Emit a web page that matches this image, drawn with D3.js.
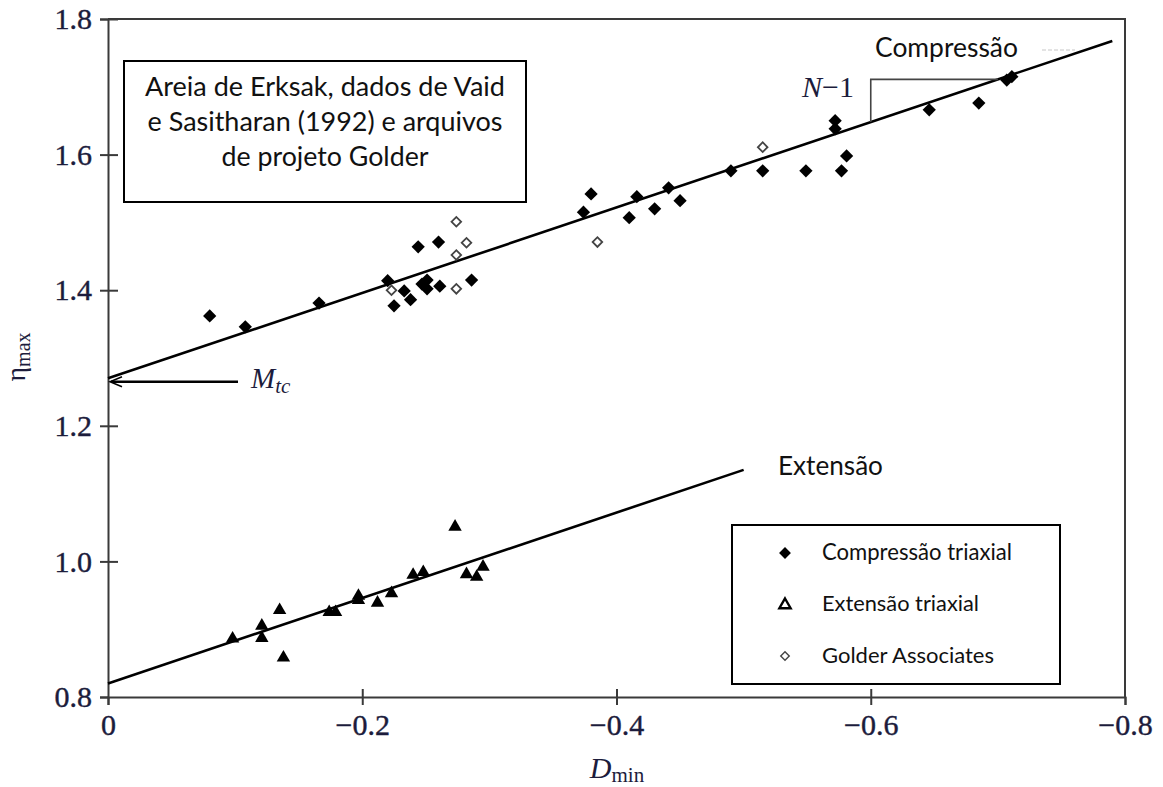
<!DOCTYPE html>
<meta charset="utf-8">
<style>
  body { margin: 0; background: #fff; }
  .serif { font-family: "Liberation Serif", "DejaVu Serif", serif; fill: #1c1c3c; }
  .sans { font-family: Lato, "Open Sans", sans-serif; fill: #111; }
</style>
<script src="https://d3js.org/d3.v7.min.js"></script>
<svg width="1163" height="787"></svg>
<script>
// data (D_min, eta_max)
const compD = [-0.080, -0.108, -0.166, -0.220, -0.244, -0.260, -0.233, -0.225, -0.238, -0.247, -0.251, -0.251, -0.261, -0.286,
  -0.380, -0.374, -0.416, -0.410, -0.430, -0.441, -0.450, -0.490, -0.515, -0.549, -0.572, -0.572, -0.581, -0.577, -0.646, -0.685, -0.707, -0.711];
const compEta = [1.362, 1.346, 1.381, 1.414, 1.464, 1.471, 1.399, 1.377, 1.386, 1.409, 1.415, 1.402, 1.406, 1.415,
  1.542, 1.515, 1.538, 1.507, 1.520, 1.551, 1.532, 1.576, 1.576, 1.576, 1.650, 1.638, 1.598, 1.576, 1.666, 1.676, 1.710, 1.715];
const extD = [-0.098, -0.121, -0.121, -0.135, -0.138, -0.174, -0.179, -0.197, -0.197, -0.212, -0.223, -0.240, -0.248, -0.273, -0.282, -0.290, -0.295];
const extEta = [0.886, 0.905, 0.887, 0.928, 0.858, 0.925, 0.925, 0.949, 0.943, 0.939, 0.953, 0.980, 0.984, 1.051, 0.981, 0.977, 0.992];
const golderD = [-0.223, -0.274, -0.282, -0.274, -0.274, -0.385, -0.515];
const golderEta = [1.400, 1.501, 1.470, 1.452, 1.402, 1.471, 1.611];

// fitted lines: eta = a + b * (-D)
const compFit = { a: 1.27, b: 0.63, dEnd: -0.79 };
const extFit = { a: 0.82, b: 0.63, dEnd: -0.50 };
const mtc = 1.265;

const xTicks = [0, -0.2, -0.4, -0.6, -0.8];
const xTickLabels = ['0', '\u22120.2', '\u22120.4', '\u22120.6', '\u22120.8'];
const yTicks = [0.8, 1.0, 1.2, 1.4, 1.6, 1.8];
const yTickLabels = ['0.8', '1.0', '1.2', '1.4', '1.6', '1.8'];

const legendLabels = ['Compressão triaxial', 'Extensão triaxial', 'Golder Associates'];
const noteLines = ['Areia de Erksak, dados de Vaid', 'e Sasitharan (1992) e arquivos', 'de projeto Golder'];

const svg = d3.select('svg');
const x = d3.scaleLinear().domain([0, -0.8]).range([108, 1125]);
const y = d3.scaleLinear().domain([0.8, 1.8]).range([697, 19]);

function fit(sel, w) {
  const l = sel.node().getComputedTextLength();
  const fs = parseFloat(sel.attr('font-size'));
  sel.attr('font-size', fs * w / l);
}

// frame: top and right
svg.append('path')
  .attr('d', `M${x(0)},${y(1.8)}H${x(-0.8)}V${y(0.8)}`)
  .attr('fill', 'none').attr('stroke', '#3a3a3a').attr('stroke-width', 2);

const xAxis = svg.append('g').attr('transform', `translate(0,${y(0.8)})`)
  .call(d3.axisBottom(x).tickValues(xTicks).tickSize(8).tickPadding(9)
    .tickFormat((d, i) => xTickLabels[i]));
const yAxis = svg.append('g').attr('transform', `translate(${x(0)},0)`)
  .call(d3.axisLeft(y).tickValues(yTicks).tickSize(8).tickPadding(8)
    .tickFormat((d, i) => yTickLabels[i]));

[xAxis, yAxis].forEach(g => {
  g.select('.domain').attr('stroke', '#3a3a3a').attr('stroke-width', 2);
  g.selectAll('.tick line').attr('stroke', '#3a3a3a').attr('stroke-width', 2);
  g.selectAll('.tick text').attr('class', 'serif').attr('font-size', 30)
    .attr('fill', '#1c1c3c').attr('stroke', '#1c1c3c').attr('stroke-width', 0.4);
});
xAxis.selectAll('.tick line').attr('y1', d => d === 0 || d === -0.8 ? 0 : -8);
yAxis.selectAll('.tick line').attr('x1', 10);
yAxis.selectAll('.tick').filter(d => d === 0.8).select('line').attr('x1', 0);

// regression lines
const line = d3.line().x(d => x(d[0])).y(d => y(d[1]));
[compFit, extFit].forEach(f => {
  svg.append('path')
    .attr('d', line([[0, f.a], [f.dEnd, f.a - f.b * f.dEnd]]))
    .attr('stroke', '#000').attr('stroke-width', 2.6).attr('fill', 'none');
});

// slope bracket N-1
const cAt = d => compFit.a - compFit.b * d;
svg.append('path')
  .attr('d', line([[-0.6, cAt(-0.6)], [-0.6, cAt(-0.7)], [-0.7, cAt(-0.7)]]))
  .attr('fill', 'none').attr('stroke', '#444').attr('stroke-width', 1.6);
const nt = svg.append('text').attr('class', 'serif').attr('x', 802).attr('y', 97).attr('font-size', 30);
nt.append('tspan').attr('font-style', 'italic').text('N');
nt.append('tspan').text('\u22121');

// M_tc arrow
svg.append('line').attr('x1', 238).attr('x2', x(0) + 3).attr('y1', y(mtc)).attr('y2', y(mtc))
  .attr('stroke', '#000').attr('stroke-width', 2.6);
svg.append('path')
  .attr('d', `M${x(0) + 14},${y(mtc) - 5}L${x(0) + 2},${y(mtc)}L${x(0) + 14},${y(mtc) + 5}`)
  .attr('fill', 'none').attr('stroke', '#000').attr('stroke-width', 1.5);
const mt = svg.append('text').attr('class', 'serif').attr('x', 251).attr('y', 388)
  .attr('font-size', 29).attr('font-style', 'italic');
mt.append('tspan').text('M');
mt.append('tspan').attr('font-size', 21).attr('dy', 5).text('tc');

// points
const diamond = d3.symbol().type(d3.symbolSquare);
svg.append('g').selectAll('path').data(compD).join('path')
  .attr('d', diamond.size(88)())
  .attr('transform', (d, i) => `translate(${x(d)},${y(compEta[i])}) rotate(45)`)
  .attr('fill', '#000');
svg.append('g').selectAll('path').data(golderD).join('path')
  .attr('d', diamond.size(46)())
  .attr('transform', (d, i) => `translate(${x(d)},${y(golderEta[i])}) rotate(45)`)
  .attr('fill', '#fff').attr('stroke', '#444').attr('stroke-width', 1.8);
svg.append('g').selectAll('path').data(extD).join('path')
  .attr('d', d3.symbol().type(d3.symbolTriangle).size(78)())
  .attr('transform', (d, i) => `translate(${x(d)},${y(extEta[i])})`)
  .attr('fill', '#000');

// labels on lines
const ct = svg.append('text').attr('class', 'sans').attr('x', 875).attr('y', 57).attr('font-size', 24).text('Compressão');
fit(ct, 143);
svg.append('line').attr('x1', 1042).attr('x2', 1075).attr('y1', 50).attr('y2', 50)
  .attr('stroke', '#c8c8c8').attr('stroke-width', 1.2).attr('stroke-dasharray', '4,2');
const et = svg.append('text').attr('class', 'sans').attr('x', 778).attr('y', 475).attr('font-size', 24).text('Extensão');
fit(et, 105);

// note box
svg.append('rect').attr('x', 124).attr('y', 61).attr('width', 402).attr('height', 141)
  .attr('fill', '#fff').attr('stroke', '#000').attr('stroke-width', 2);
const noteW = [360, 355, 207];
noteLines.forEach((t, i) => {
  const tx = svg.append('text').attr('class', 'sans').attr('x', 325).attr('y', 96 + i * 35)
    .attr('text-anchor', 'middle').attr('font-size', 24).text(t);
  fit(tx, noteW[i]);
});

// legend
svg.append('rect').attr('x', 732).attr('y', 525).attr('width', 328).attr('height', 159)
  .attr('fill', '#fff').attr('stroke', '#000').attr('stroke-width', 2);
const legW = [190, 157, 172];
const legY = [553, 604, 656];
legendLabels.forEach((t, i) => {
  const tx = svg.append('text').attr('class', 'sans').attr('x', 822).attr('y', legY[i] + 7)
    .attr('font-size', 18).text(t);
  fit(tx, legW[i]);
});
svg.append('path').attr('d', diamond.size(70)()).attr('transform', `translate(785,${legY[0]}) rotate(45)`).attr('fill', '#000');
svg.append('path').attr('d', d3.symbol().type(d3.symbolTriangle).size(55)())
  .attr('transform', `translate(785,${legY[1] + 1})`).attr('fill', '#fff').attr('stroke', '#000').attr('stroke-width', 2.4);
svg.append('path').attr('d', diamond.size(36)()).attr('transform', `translate(785,${legY[2]}) rotate(45)`)
  .attr('fill', '#fff').attr('stroke', '#444').attr('stroke-width', 1.4);

// axis titles
const xt = svg.append('text').attr('class', 'serif').attr('x', 617).attr('y', 778).attr('text-anchor', 'middle').attr('font-size', 30);
xt.append('tspan').attr('font-style', 'italic').text('D');
xt.append('tspan').attr('font-size', 21).attr('dy', 4).text('min');
const yt = svg.append('text').attr('class', 'serif').attr('transform', 'translate(25,357) rotate(-90)')
  .attr('text-anchor', 'middle').attr('font-size', 28);
yt.append('tspan').text('\u03b7');
yt.append('tspan').attr('font-size', 20).attr('dy', 5).text('max');
</script>
